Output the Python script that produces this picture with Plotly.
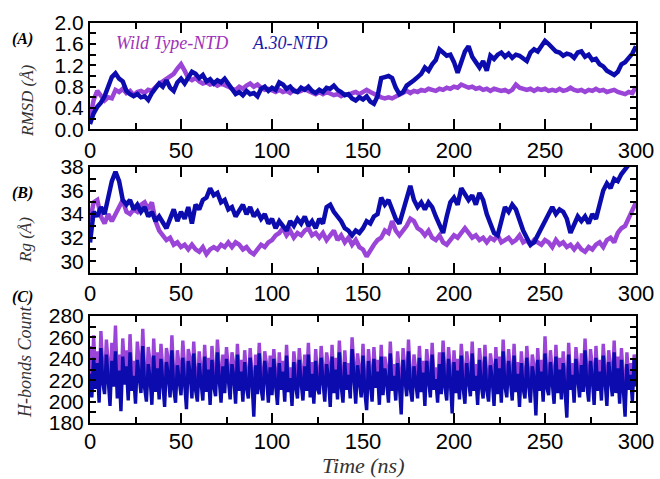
import numpy as np
import plotly.graph_objects as go

W, H = 660, 479

# ---------------- data ----------------
rmsd_wt = [0.20, 0.55, 0.72, 0.64, 0.54, 0.60, 0.58, 0.74, 0.70, 0.76, 0.68, 0.72, 0.64, 0.70, 0.72, 0.68, 0.74, 0.72, 0.80, 0.86,
           0.90, 0.94, 0.98, 1.04, 1.14, 1.22, 1.10, 0.96, 0.92, 0.96, 0.90, 0.86, 0.88, 0.84, 0.86, 0.82, 0.86, 0.84, 0.80, 0.76,
           0.74, 0.80, 0.76, 0.82, 0.86, 0.80, 0.84, 0.78, 0.74, 0.76, 0.72, 0.70, 0.74, 0.70, 0.72, 0.68, 0.74, 0.70, 0.72, 0.76,
           0.72, 0.70, 0.66, 0.70, 0.66, 0.70, 0.68, 0.64, 0.66, 0.62, 0.66, 0.64, 0.68, 0.70, 0.66, 0.70, 0.74, 0.70, 0.66, 0.62,
           0.60, 0.58, 0.60, 0.58, 0.62, 0.66, 0.70, 0.72, 0.68, 0.72, 0.70, 0.74, 0.72, 0.76, 0.74, 0.72, 0.76, 0.74, 0.78, 0.76,
           0.80, 0.78, 0.84, 0.82, 0.78, 0.80, 0.76, 0.78, 0.74, 0.76, 0.72, 0.76, 0.74, 0.72, 0.74, 0.70, 0.74, 0.84, 0.78, 0.76,
           0.74, 0.76, 0.72, 0.76, 0.74, 0.76, 0.72, 0.74, 0.72, 0.76, 0.72, 0.74, 0.78, 0.74, 0.72, 0.74, 0.70, 0.74, 0.72, 0.76,
           0.72, 0.74, 0.70, 0.72, 0.74, 0.70, 0.68, 0.66, 0.70, 0.68, 0.80]
rmsd_a30 = [0.10, 0.30, 0.42, 0.50, 0.62, 0.80, 0.98, 1.05, 0.95, 0.90, 0.72, 0.66, 0.62, 0.66, 0.60, 0.62, 0.55, 0.68, 0.78, 0.86,
            0.80, 0.92, 0.78, 0.72, 0.88, 0.95, 0.86, 0.98, 1.08, 1.04, 0.96, 1.02, 0.90, 0.94, 0.86, 0.92, 0.88, 0.95, 0.85, 0.78,
            0.66, 0.70, 0.64, 0.72, 0.66, 0.68, 0.62, 0.76, 0.80, 0.72, 0.78, 0.74, 0.88, 0.84, 0.76, 0.80, 0.72, 0.70, 0.78, 0.74,
            0.80, 0.72, 0.68, 0.74, 0.70, 0.78, 0.76, 0.82, 0.74, 0.70, 0.64, 0.66, 0.58, 0.54, 0.60, 0.56, 0.62, 0.52, 0.48, 0.62,
            0.96, 0.98, 1.00, 0.96, 0.78, 0.66, 0.70, 0.82, 0.86, 0.92, 0.98, 1.04, 1.16, 1.10, 1.22, 1.30, 1.50, 1.44, 1.38, 1.40,
            1.26, 1.06, 1.24, 1.46, 1.56, 1.36, 1.26, 1.16, 1.28, 1.10, 1.38, 1.32, 1.40, 1.44, 1.36, 1.42, 1.34, 1.40, 1.38, 1.32,
            1.28, 1.44, 1.50, 1.46, 1.56, 1.66, 1.60, 1.54, 1.46, 1.44, 1.38, 1.42, 1.40, 1.34, 1.44, 1.46, 1.36, 1.40, 1.30, 1.32,
            1.22, 1.18, 1.10, 1.06, 1.02, 1.08, 1.22, 1.26, 1.34, 1.42, 1.56]

rg_wt = [33.4, 35.0, 35.2, 33.8, 33.2, 34.0, 33.4, 34.0, 34.6, 35.2, 34.2, 34.0, 34.4, 34.2, 34.8, 35.0, 34.4, 35.0, 33.4, 32.6,
         32.2, 31.8, 32.0, 31.4, 31.6, 31.2, 31.4, 31.0, 31.4, 31.0, 30.8, 31.2, 30.6, 31.0, 31.2, 31.0, 31.4, 31.2, 31.6, 31.2,
         31.6, 31.4, 31.0, 31.2, 30.8, 30.6, 31.0, 31.4, 31.2, 31.6, 31.8, 32.2, 32.4, 32.8, 32.2, 32.6, 32.0, 32.4, 32.2, 32.6,
         32.8, 32.2, 32.4, 32.0, 32.4, 31.8, 32.2, 32.6, 31.8, 32.2, 31.6, 32.0, 31.4, 31.8, 31.2, 31.0, 30.4, 31.0, 31.4, 31.8,
         32.0, 32.6, 32.4, 33.4, 32.6, 32.2, 32.6, 33.0, 33.6, 33.4, 32.8, 32.6, 32.2, 32.6, 32.0, 31.8, 32.2, 31.6, 31.4, 31.8,
         32.2, 32.0, 32.4, 32.8, 32.4, 32.0, 32.2, 31.8, 32.0, 31.6, 32.0, 31.8, 32.2, 31.6, 31.8, 32.0, 31.6, 31.8, 32.2, 31.6,
         31.8, 31.4, 31.8, 31.6, 31.4, 31.8, 31.6, 31.2, 31.8, 31.4, 31.6, 31.2, 31.4, 31.0, 31.4, 31.0, 30.8, 31.2, 31.0, 31.4,
         31.6, 31.2, 31.8, 32.0, 31.6, 32.4, 32.8, 33.0, 33.6, 34.2, 35.0]
rg_a30 = [31.6, 34.2, 33.8, 34.6, 34.0, 35.4, 36.8, 37.6, 36.8, 35.2, 34.8, 35.2, 34.4, 34.8, 34.2, 34.6, 33.8, 34.2, 33.4, 33.8,
          33.2, 32.8, 33.6, 34.4, 33.4, 34.2, 33.6, 34.6, 33.2, 34.8, 34.4, 35.2, 35.4, 36.2, 35.6, 35.8, 35.0, 35.2, 34.4, 34.6,
          33.8, 34.4, 34.8, 34.0, 34.6, 33.8, 34.2, 33.6, 34.0, 33.2, 33.6, 32.8, 33.4, 33.0, 32.6, 33.4, 33.0, 33.6, 33.2, 33.8,
          33.0, 33.4, 32.8, 33.6, 33.2, 34.6, 34.8, 34.2, 33.8, 33.4, 32.8, 32.6, 32.2, 32.6, 32.4, 32.8, 33.4, 33.2, 33.8, 34.0,
          35.4, 34.8, 35.2, 34.4, 33.6, 33.2, 34.2, 35.4, 36.4, 35.2, 34.6, 35.0, 34.4, 35.0, 34.6, 33.8, 33.0, 32.4, 33.8, 35.0,
          35.4, 34.8, 36.2, 35.6, 35.2, 35.6, 34.8, 35.8, 35.2, 34.0, 33.2, 32.4, 32.2, 33.6, 34.6, 34.2, 34.8, 34.4, 33.4, 32.6,
          32.0, 31.4, 31.6, 32.2, 32.8, 33.4, 34.2, 34.6, 34.0, 34.4, 34.2, 33.6, 32.4, 33.2, 33.8, 33.4, 33.8, 33.2, 34.0, 33.6,
          34.8, 36.0, 36.6, 36.2, 37.0, 36.8, 37.4, 37.8, 38.4, 38.6, 38.8]

hb_wt = [252, 215, 262, 224, 247, 208, 266, 231, 219, 258, 236, 212, 255, 228, 271, 218, 244, 206, 259, 229,
         248, 214, 263, 222, 238, 209, 256, 233, 220, 268, 226, 211, 251, 237, 207, 259, 221, 246, 213, 254,
         230, 205, 250, 239, 216, 262, 224, 210, 248, 233, 218, 257, 227, 204, 249, 240, 214, 256, 223, 209,
         247, 230, 212, 253, 219, 241, 206, 252, 226, 215, 258, 232, 208, 244, 218, 251, 227, 211, 246, 235,
         207, 254, 220, 239, 209, 248, 224, 212, 250, 229, 200, 244, 216, 255, 223, 210, 247, 235, 206, 243,
         215, 249, 226, 204, 246, 221, 238, 209, 253, 218, 232, 203, 247, 225, 212, 250, 229, 208, 244, 220,
         255, 213, 237, 206, 249, 222, 216, 252, 230, 209, 246, 234, 203, 253, 218, 241, 211, 257, 226, 207,
         248, 221, 236, 212, 260, 227, 207, 245, 232, 213, 254, 219, 202, 249, 228, 210, 251, 224, 239, 206,
         253, 216, 242, 230, 208, 256, 221, 235, 210, 247, 226, 201, 250, 233, 214, 258, 223, 209, 244, 229,
         212, 252, 219, 238, 205, 249, 227, 213, 255, 221, 232, 208, 246, 217, 257, 225, 210, 251, 230, 203,
         248, 218, 240, 211, 254, 224, 207, 247, 231, 214, 256, 220, 235, 206, 250, 226, 212, 253, 222, 209,
         245, 232, 205, 251, 217, 242, 208, 258, 225, 213, 249, 229, 210, 254, 219, 237, 204, 247, 223, 212,
         252, 227, 208, 244, 233, 200, 250, 220, 239, 209, 261, 224, 215, 248, 230, 207, 253, 218, 241, 211,
         247, 225, 199, 255, 221, 236, 208, 251, 228, 213, 245, 219, 259, 226, 209, 249, 233, 205, 252, 220,
         239, 210, 254, 224, 205, 248, 230, 214, 257, 218, 242, 207, 250, 227, 198, 246, 221, 236, 209, 244,
         225]
hb_a30 = [226, 204, 241, 212, 236, 199, 250, 218, 207, 244, 221, 196, 238, 214, 247, 203, 229, 191, 242, 216,
          233, 201, 246, 210, 224, 198, 239, 219, 208, 252, 213, 200, 235, 222, 197, 243, 209, 231, 202, 240,
          217, 195, 237, 225, 204, 248, 212, 199, 234, 220, 206, 241, 215, 193, 238, 227, 203, 245, 211, 200,
          236, 218, 201, 242, 209, 230, 197, 239, 214, 205, 246, 221, 199, 233, 208, 240, 216, 202, 235, 223,
          198, 244, 210, 228, 200, 237, 213, 203, 241, 219, 186, 234, 207, 245, 212, 201, 238, 224, 199, 232,
          206, 240, 215, 197, 236, 211, 228, 200, 243, 209, 222, 196, 237, 214, 203, 239, 218, 201, 233, 210,
          244, 204, 226, 198, 238, 212, 207, 241, 219, 200, 235, 223, 195, 242, 208, 230, 202, 246, 215, 199,
          237, 211, 225, 203, 249, 216, 198, 234, 221, 204, 243, 209, 192, 238, 217, 200, 240, 213, 228, 197,
          242, 206, 231, 219, 199, 245, 210, 224, 201, 236, 215, 188, 239, 222, 205, 247, 212, 200, 233, 218,
          203, 241, 209, 227, 196, 238, 216, 204, 244, 211, 221, 199, 235, 207, 246, 214, 201, 240, 219, 189,
          237, 208, 229, 202, 243, 213, 198, 236, 220, 205, 245, 210, 224, 197, 239, 215, 203, 242, 211, 200,
          234, 221, 196, 240, 207, 231, 199, 247, 214, 204, 238, 218, 201, 243, 209, 226, 195, 236, 212, 203,
          241, 216, 199, 233, 222, 187, 239, 210, 228, 200, 245, 213, 206, 237, 219, 198, 242, 208, 230, 202,
          236, 214, 185, 244, 211, 225, 199, 240, 217, 204, 234, 209, 248, 215, 200, 238, 222, 197, 241, 210,
          228, 201, 243, 213, 196, 237, 219, 205, 246, 208, 231, 198, 239, 216, 186, 235, 211, 225, 200, 240,
          214]

x_ticks = [0, 50, 100, 150, 200, 250, 300]
series_names = ["Wild Type-NTD", "A.30-NTD"]
panel_labels = ["(A)", "(B)", "(C)"]
y_titles = ["RMSD (Å)", "Rg (Å)", "H-bonds Count"]

# ---------------- style ----------------
C_WT = "#9a44d8"
C_A30 = "#0c0cae"
SERIF = "Liberation Serif, Times New Roman, serif"
SANS = "Liberation Sans, Arial, sans-serif"

def px_x(p):
    return p / W

def px_y(p):
    return 1 - p / H

xdom = [px_x(90), px_x(636)]
panels = [  # (top px, bottom px)
    (22.7, 129.3),
    (167, 273),
    (316, 423),
]

fig = go.Figure()

def t_of(arr):
    return np.linspace(0, 300, len(arr))

data = [
    (rmsd_wt, rmsd_a30, 4.5),
    (rg_wt, rg_a30, 4.5),
    (hb_wt, hb_a30, 3.4),
]
for i, (wt, a30, lw) in enumerate(data):
    ax = "" if i == 0 else str(i + 1)
    fig.add_trace(go.Scatter(x=t_of(wt), y=wt, mode="lines", line=dict(color=C_WT, width=lw),
                             xaxis="x" + ax, yaxis="y" + ax, showlegend=False, name=series_names[0]))
    fig.add_trace(go.Scatter(x=t_of(a30), y=a30, mode="lines", line=dict(color=C_A30, width=lw),
                             xaxis="x" + ax, yaxis="y" + ax, showlegend=False, name=series_names[1]))

yspecs = [
    dict(range=[0, 2.0], tickvals=[0, 0.4, 0.8, 1.2, 1.6, 2.0], ticktext=["0.0", "0.4", "0.8", "1.2", "1.6", "2.0"], minor_dtick=0.2),
    dict(range=[29, 38], tickvals=[30, 32, 34, 36, 38], ticktext=None, minor_dtick=1),
    dict(range=[180, 280], tickvals=[180, 200, 220, 240, 260, 280], ticktext=None, minor_dtick=10),
]

layout = dict(
    width=W, height=H,
    margin=dict(l=0, r=0, t=0, b=0, autoexpand=False),
    paper_bgcolor="white", plot_bgcolor="white",
    showlegend=False,
)
for i, ((top, bot), ys) in enumerate(zip(panels, yspecs)):
    sfx = "" if i == 0 else str(i + 1)
    layout["xaxis" + sfx] = dict(
        domain=xdom, anchor="y" + sfx, range=[0, 300], automargin=False,
        tickvals=x_ticks, ticks="inside", ticklen=10, tickwidth=1.5, tickcolor="black",
        minor=dict(dtick=25, tick0=0, ticks="inside", ticklen=6, tickwidth=1.5, tickcolor="black"),
        showline=True, linecolor="black", linewidth=2, mirror="ticks",
        showgrid=False, zeroline=False,
        tickfont=dict(family=SANS, size=22, color="black"),
        ticklabelstandoff=-2 if i == 2 else 0,
    )
    yd = dict(
        domain=[px_y(bot), px_y(top)], anchor="x" + sfx, range=ys["range"], automargin=False,
        tickvals=ys["tickvals"], ticks="inside", ticklen=6, tickwidth=1.5, tickcolor="black",
        minor=dict(dtick=ys["minor_dtick"], ticks="inside", ticklen=6, tickwidth=1.5, tickcolor="black"),
        showline=True, linecolor="black", linewidth=2, mirror="ticks",
        showgrid=False, zeroline=False,
        tickfont=dict(family=SANS, size=21, color="black"),
        ticklabelstandoff=0,
    )
    if ys["ticktext"]:
        yd["ticktext"] = ys["ticktext"]
    layout["yaxis" + sfx] = yd

fig.update_layout(**layout)

ann = []
# panel labels
for lab, py in zip(panel_labels, [39, 193, 297]):
    ann.append(dict(x=px_x(22), y=px_y(py), xref="paper", yref="paper", text="<b><i>%s</i></b>" % lab,
                    showarrow=False, font=dict(family=SERIF, size=16, color="black"),
                    xanchor="center", yanchor="middle"))
# y titles
for ttl, (pxc, pyc, fs) in zip(y_titles, [(28, 101, 17), (25, 240, 17), (25, 362, 18)]):
    ann.append(dict(x=px_x(pxc), y=px_y(pyc), xref="paper", yref="paper", text="<i>%s</i>" % ttl,
                    textangle=-90, showarrow=False, font=dict(family=SERIF, size=fs, color="#333333"),
                    xanchor="center", yanchor="middle"))
# legend texts
ann.append(dict(x=px_x(114), y=px_y(43), xref="paper", yref="paper", text="<i>%s</i>" % series_names[0],
                showarrow=False, font=dict(family=SERIF, size=18, color="#a032b8"),
                xanchor="left", yanchor="middle"))
ann.append(dict(x=px_x(250), y=px_y(43), xref="paper", yref="paper", text="<i>%s</i>" % series_names[1],
                showarrow=False, font=dict(family=SERIF, size=18, color="#1a1aa8"),
                xanchor="left", yanchor="middle"))
# x title
ann.append(dict(x=px_x(363), y=px_y(479), xref="paper", yref="paper", text="<i>Time (ns)</i>",
                showarrow=False, font=dict(family=SERIF, size=22, color="#333333"),
                xanchor="center", yanchor="bottom", borderpad=0))
fig.update_layout(annotations=ann)

fig.write_html("out.html", config={"displayModeBar": False},
               post_script="document.body.style.margin='0';document.body.style.overflow='hidden';")
